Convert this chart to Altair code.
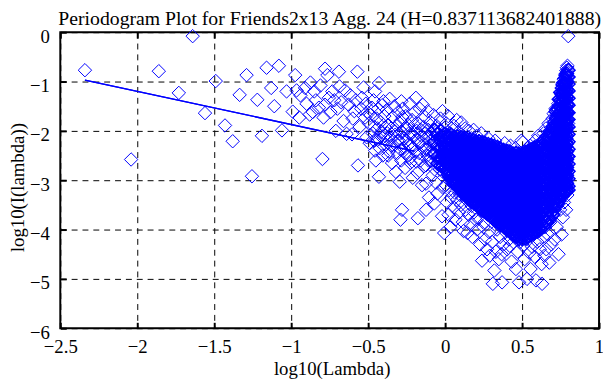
import altair as alt
import pandas as pd

TITLE = "Periodogram Plot for Friends2x13 Agg. 24 (H=0.837113682401888)"
X_TITLE = "log10(Lambda)"
Y_TITLE = "log10(I(lambda))"
x_ticks = [-2.5, -2, -1.5, -1, -0.5, 0, 0.5, 1]
y_ticks = [-6, -5, -4, -3, -2, -1, 0]

# fitted line end points (log10 lambda, log10 I)
fit_x = [-2.34, -0.2]
fit_y = [-0.97, -2.41]

# sparse low-frequency points
low_pts = [(-2.34,-0.77),(-2.04,-2.58),(-1.86,-0.79),(-1.73,-1.23),(-1.64,-0.08),(-1.56,-1.64),
(-1.49,-0.99),(-1.43,-1.89),(-1.38,-2.21),(-1.335,-1.27),(-1.29,-0.87),(-1.255,-2.92),(-1.22,-1.37),
(-1.19,-2.10),(-1.16,-0.72),(-1.13,-1.13),(-1.11,-1.50),(-1.08,-0.68),(-1.06,-1.99),(-1.03,-1.20)]

mid_pts = [(-0.99,-1.61),(-0.974,-0.87),(-0.947,-1.73),(-0.91,-1.13),(-0.88,-1.67),(-0.85,-1.20),
(-0.82,-1.53),(-0.797,-2.57),(-0.79,-1.73),(-0.765,-0.87),(-0.755,-1.33),(-0.733,-1.20),(-0.71,-2.00),
(-0.69,-0.80),(-0.686,-1.10),(-0.66,-1.80),(-0.627,-1.47),(-0.605,-2.07),(-0.59,-1.60),(-0.57,-0.80),
(-0.566,-2.70),(-0.54,-1.33),(-0.52,-1.73),(-0.51,-2.13),(-0.965,-1.18),(-0.94,-1.28),(-0.90,-1.45),
(-0.875,-1.02),(-0.86,-1.62),(-0.84,-1.38),(-0.81,-1.08),(-0.78,-1.47),(-0.745,-1.62),(-0.72,-1.38),
(-0.70,-1.55),(-0.675,-1.42),(-0.65,-1.18),(-0.64,-2.06),(-0.615,-1.28),(-0.60,-1.75),(-0.58,-1.38),
(-0.555,-1.92),(-0.545,-1.55),(-0.53,-1.12),(-0.515,-1.45),(-0.505,-1.62),(-0.78,-0.74)]

neg_pts = [(-0.476,-1.53),(-0.455,-1.20),(-0.43,-1.03),(-0.455,-2.40),(-0.43,-2.93),(-0.40,-1.40),
(-0.39,-1.93),(-0.32,-2.83),(-0.295,-3.03),(-0.284,-1.40),(-0.19,-1.33),(-0.145,-1.47),(-0.113,-1.60),
(-0.017,-1.60),(-0.05,-3.27),(-0.124,-3.07),(-0.28,-3.60),(-0.29,-3.80),(-0.177,-3.77),(-0.124,-3.60),
(-0.07,-3.47),(-0.006,-4.07),(-0.02,-3.73),
(-0.495,-1.85),(-0.49,-2.25),(-0.485,-1.68),(-0.47,-2.05),(-0.465,-1.38),(-0.46,-1.92),(-0.45,-2.6),
(-0.445,-1.75),(-0.44,-2.18),(-0.435,-1.55),(-0.425,-2.35),(-0.42,-1.82),(-0.415,-2.02),(-0.41,-1.48),
(-0.405,-2.5),(-0.40,-2.12),(-0.395,-1.7),(-0.385,-2.28),(-0.38,-1.58),(-0.375,-2.05),(-0.37,-1.88),
(-0.365,-2.42),(-0.36,-1.35),(-0.355,-2.15),(-0.35,-1.95),(-0.345,-2.65),(-0.34,-1.72),(-0.335,-2.3),
(-0.33,-1.5),(-0.325,-2.08),(-0.315,-1.9),(-0.31,-2.45),(-0.305,-1.62),(-0.30,-2.2),(-0.29,-1.8),
(-0.285,-2.6),(-0.28,-2.02),(-0.275,-1.55),(-0.27,-2.35),(-0.265,-1.95),(-0.26,-2.75),(-0.255,-1.7),
(-0.25,-2.2),(-0.245,-2.5),(-0.24,-1.88),(-0.235,-2.05),(-0.23,-1.45),(-0.225,-2.65),(-0.22,-2.3),
(-0.215,-1.78),(-0.21,-2.95),(-0.205,-2.12),(-0.20,-1.62),(-0.195,-2.42),(-0.185,-2.0),(-0.18,-2.85),
(-0.175,-1.85),(-0.17,-2.25),(-0.165,-1.55),(-0.16,-2.6),(-0.155,-2.1),(-0.15,-3.1),(-0.14,-1.92),
(-0.135,-2.38),(-0.13,-1.72),(-0.125,-2.7),(-0.12,-2.15),(-0.115,-2.5),(-0.11,-1.98),(-0.105,-3.35),
(-0.10,-2.28),(-0.095,-1.82),(-0.09,-2.62),(-0.085,-2.05),(-0.08,-2.9),(-0.075,-1.68),(-0.07,-2.45),
(-0.065,-2.2),(-0.06,-3.05),(-0.055,-1.9),(-0.045,-2.55),(-0.04,-2.32),(-0.035,-2.78),(-0.03,-1.75),
(-0.025,-2.1),(-0.015,-3.15),(-0.01,-2.48),(-0.005,-1.95),
(-0.298,-2.05),(-0.288,-2.38),(-0.278,-1.72),(-0.268,-2.15),(-0.258,-2.45),(-0.248,-1.95),(-0.238,-2.28),
(-0.228,-2.55),(-0.218,-2.05),(-0.208,-2.35),(-0.198,-1.88),(-0.188,-2.62),(-0.178,-2.18),(-0.168,-2.45),
(-0.158,-1.98),(-0.148,-2.3),(-0.138,-2.72),(-0.128,-2.05),(-0.118,-2.38),(-0.108,-2.6),(-0.098,-2.12),
(-0.088,-2.45),(-0.078,-2.25),(-0.068,-2.78),(-0.058,-2.02),(-0.048,-2.35),(-0.038,-2.6),(-0.028,-2.2),
(-0.018,-2.5),(-0.008,-2.85),(-0.35,-2.3),(-0.33,-2.0),(-0.31,-2.2),(-0.39,-2.1),(-0.37,-2.5),
(-0.42,-2.1),(-0.44,-1.95),(-0.46,-2.2)]

pos_pts = [
(0.002,-2.35),(0.005,-3.1),(0.008,-1.85),(0.01,-2.62),(0.012,-3.45),(0.015,-2.18),(0.018,-2.9),(0.02,-1.7),
(0.022,-3.7),(0.025,-2.45),(0.027,-3.2),(0.03,-2.05),(0.032,-2.78),(0.035,-3.95),(0.037,-2.3),(0.04,-3.35),
(0.042,-1.95),(0.045,-2.55),(0.047,-3.05),(0.049,-2.2),
(0.051,-2.85),(0.053,-2.4),(0.056,-3.55),(0.058,-1.9),(0.06,-2.7),(0.062,-3.25),(0.065,-2.15),(0.067,-3.8),
(0.07,-2.5),(0.072,-2.95),(0.075,-1.78),(0.077,-3.4),(0.08,-2.6),(0.082,-2.28),(0.085,-3.12),(0.087,-2.02),
(0.09,-3.65),(0.092,-2.75),(0.095,-2.38),(0.097,-3.3),(0.099,-2.88),
(0.101,-2.2),(0.103,-3.5),(0.105,-1.83),(0.107,-2.65),(0.11,-3.05),(0.112,-2.42),(0.115,-3.85),(0.117,-2.1),
(0.12,-4.03),(0.122,-2.78),(0.125,-3.25),(0.127,-2.55),(0.13,-1.95),(0.132,-3.6),(0.135,-2.9),(0.137,-2.3),
(0.14,-3.4),(0.142,-2.68),(0.145,-4.07),(0.147,-2.12),(0.149,-3.15),
(0.151,-2.5),(0.153,-3.7),(0.155,-2.0),(0.157,-2.95),(0.16,-3.3),(0.162,-2.35),(0.165,-3.9),(0.167,-2.72),
(0.17,-2.15),(0.172,-3.52),(0.175,-2.85),(0.177,-4.15),(0.18,-2.45),(0.182,-3.1),(0.185,-1.98),(0.187,-3.65),
(0.19,-2.6),(0.192,-3.42),(0.195,-2.25),(0.197,-3.0),(0.199,-3.8),
(0.201,-2.4),(0.203,-3.35),(0.205,-2.1),(0.207,-4.0),(0.21,-2.75),(0.212,-3.15),(0.215,-2.55),(0.217,-3.75),
(0.22,-2.2),(0.222,-3.5),(0.225,-2.9),(0.227,-4.3),(0.23,-2.65),(0.232,-3.25),(0.235,-2.05),(0.237,-3.62),
(0.24,-4.63),(0.242,-2.82),(0.245,-3.4),(0.247,-2.35),(0.249,-3.95),
(0.251,-2.6),(0.253,-3.2),(0.255,-2.25),(0.257,-3.85),(0.26,-4.2),(0.262,-2.95),(0.265,-3.55),(0.267,-2.45),
(0.27,-3.05),(0.272,-4.4),(0.275,-2.75),(0.277,-3.7),(0.28,-2.15),(0.282,-3.35),(0.285,-4.05),(0.287,-2.88),
(0.29,-4.53),(0.292,-3.15),(0.295,-2.5),(0.297,-3.6),(0.299,-2.3),
(0.301,-3.45),(0.303,-2.65),(0.305,-4.25),(0.307,-3.0),(0.31,-5.1),(0.312,-2.4),(0.315,-3.8),(0.317,-2.85),
(0.32,-4.83),(0.322,-3.25),(0.325,-2.2),(0.327,-3.6),(0.33,-4.45),(0.332,-2.7),(0.335,-3.35),(0.337,-4.0),
(0.34,-2.55),(0.342,-3.1),(0.345,-3.9),(0.347,-2.95),(0.349,-4.6),
(0.351,-2.35),(0.353,-3.55),(0.355,-2.8),(0.357,-4.15),(0.36,-3.2),(0.362,-2.6),(0.365,-3.75),(0.367,-4.5),
(0.37,-5.07),(0.372,-3.0),(0.375,-2.45),(0.377,-3.4),(0.38,-4.3),(0.382,-2.9),(0.385,-3.65),(0.387,-2.25),
(0.39,-3.15),(0.392,-4.05),(0.395,-2.7),(0.397,-3.85),(0.399,-3.3),
(0.401,-2.55),(0.403,-4.4),(0.405,-3.05),(0.407,-3.7),(0.41,-2.4),(0.412,-3.45),(0.415,-4.2),(0.417,-2.85),
(0.42,-4.33),(0.422,-3.25),(0.425,-2.3),(0.427,-3.9),(0.43,-2.95),(0.432,-4.65),(0.435,-3.55),(0.437,-2.65),
(0.44,-3.15),(0.442,-4.0),(0.445,-2.5),(0.447,-3.8),(0.449,-3.35),
(0.451,-2.75),(0.453,-4.1),(0.455,-3.0),(0.457,-2.35),(0.46,-4.8),(0.462,-3.6),(0.465,-2.6),(0.467,-3.95),
(0.47,-3.2),(0.472,-4.45),(0.475,-2.45),(0.477,-3.4),(0.48,-5.07),(0.482,-2.9),(0.485,-3.75),(0.487,-4.25),
(0.49,-2.55),(0.492,-3.5),(0.495,-2.2),(0.497,-4.0),(0.499,-3.1)]

high_pts = [
(0.501,-2.6),(0.503,-3.85),(0.505,-2.23),(0.507,-4.33),(0.51,-3.3),(0.512,-2.85),(0.515,-3.6),(0.517,-4.6),
(0.52,-2.45),(0.522,-3.1),(0.525,-4.05),(0.527,-2.75),(0.53,-3.45),(0.532,-5.0),(0.535,-2.35),(0.537,-3.75),
(0.54,-2.95),(0.542,-4.2),(0.545,-3.25),(0.547,-4.47),(0.549,-2.55),
(0.551,-3.55),(0.553,-2.3),(0.555,-4.8),(0.557,-3.0),(0.56,-3.9),(0.562,-2.65),(0.565,-4.35),(0.567,-3.35),
(0.57,-2.5),(0.572,-3.7),(0.575,-4.1),(0.577,-2.85),(0.58,-3.2),(0.582,-4.55),(0.585,-2.2),(0.587,-3.5),
(0.59,-5.03),(0.592,-2.75),(0.595,-3.85),(0.597,-3.05),(0.599,-4.25),
(0.601,-2.45),(0.603,-3.6),(0.605,-2.1),(0.607,-4.0),(0.61,-3.15),(0.612,-2.7),(0.615,-4.4),(0.617,-3.4),
(0.62,-2.3),(0.622,-3.8),(0.625,-2.95),(0.627,-4.7),(0.63,-5.1),(0.632,-2.55),(0.635,-3.25),(0.637,-4.15),
(0.64,-2.05),(0.642,-3.55),(0.645,-4.53),(0.647,-2.85),(0.649,-3.95),
(0.651,-2.4),(0.653,-3.3),(0.655,-1.95),(0.657,-4.4),(0.66,-2.75),(0.662,-3.65),(0.665,-2.2),(0.667,-4.1),
(0.67,-3.0),(0.672,-1.85),(0.675,-3.45),(0.677,-4.67),(0.68,-2.6),(0.682,-3.85),(0.685,-2.35),(0.687,-3.15),
(0.69,-4.3),(0.692,-2.05),(0.695,-3.55),(0.697,-2.85),(0.699,-1.75),
(0.701,-2.5),(0.703,-3.7),(0.705,-1.65),(0.707,-3.1),(0.71,-2.2),(0.712,-4.2),(0.715,-2.85),(0.717,-1.55),
(0.72,-3.4),(0.722,-2.35),(0.725,-3.95),(0.727,-1.9),(0.73,-2.7),(0.732,-3.25),(0.735,-1.45),(0.737,-4.5),
(0.74,-2.1),(0.742,-3.0),(0.745,-1.35),(0.747,-3.6),(0.749,-2.55),
(0.751,-1.8),(0.752,-3.3),(0.754,-1.25),(0.756,-2.6),(0.757,-4.1),(0.759,-1.55),(0.76,-2.95),(0.762,-1.05),
(0.764,-2.3),(0.765,-3.75),(0.767,-1.7),(0.768,-2.05),(0.77,-0.95),(0.772,-3.45),(0.773,-1.4),(0.775,-2.45),
(0.777,-1.15),(0.778,-3.1),(0.78,-1.9),(0.781,-0.85),(0.783,-2.7),(0.784,-1.3),(0.786,-3.6),(0.787,-0.78),
(0.789,-2.2),(0.79,-1.6),(0.791,-0.72),(0.792,-2.85),(0.793,-1.0),(0.794,-3.3),(0.795,-0.68),(0.796,-1.45),
(0.797,-2.5),(0.798,-0.9),(0.799,-1.85),(0.80,-0.08)]

# dense core, read column by column: (log10 lambda, [log10 I values])
core_cols = [
(-0.07,[-1.98,-2.22,-2.46]),
(-0.05,[-2.07,-2.3,-2.52,-2.66]),
(-0.03,[-2.0,-2.18,-2.36,-2.55,-2.7]),
(-0.015,[-2.1,-2.26,-2.42,-2.58,-2.72]),
(0.00,[-2.06,-2.2,-2.33,-2.47,-2.6,-2.74]),
(0.01,[-2.13,-2.27,-2.4,-2.54,-2.67,-2.81]),
(0.02,[-2.1,-2.23,-2.37,-2.5,-2.64,-2.78,-2.88]),
(0.03,[-2.14,-2.28,-2.42,-2.56,-2.69,-2.83,-2.94]),
(0.04,[-2.08,-2.21,-2.35,-2.49,-2.62,-2.76,-2.9,-2.99]),
(0.05,[-2.17,-2.31,-2.45,-2.59,-2.73,-2.87,-3.01]),
(0.06,[-2.12,-2.26,-2.4,-2.53,-2.67,-2.81,-2.95,-3.08]),
(0.07,[-2.18,-2.32,-2.46,-2.6,-2.74,-2.88,-3.02,-3.11]),
(0.08,[-2.11,-2.24,-2.38,-2.52,-2.66,-2.8,-2.93,-3.06,-3.14]),
(0.09,[-2.18,-2.32,-2.46,-2.6,-2.74,-2.88,-3.02,-3.16]),
(0.10,[-2.13,-2.27,-2.41,-2.55,-2.69,-2.83,-2.97,-3.1,-3.19]),
(0.11,[-2.2,-2.34,-2.48,-2.62,-2.76,-2.9,-3.04,-3.18,-3.25]),
(0.12,[-2.15,-2.29,-2.43,-2.57,-2.71,-2.85,-2.99,-3.13,-3.27]),
(0.13,[-2.22,-2.36,-2.5,-2.64,-2.78,-2.92,-3.06,-3.2,-3.31]),
(0.14,[-2.16,-2.3,-2.44,-2.58,-2.72,-2.86,-3.0,-3.14,-3.28,-3.34]),
(0.15,[-2.23,-2.37,-2.51,-2.65,-2.79,-2.93,-3.07,-3.21,-3.35]),
(0.16,[-2.18,-2.32,-2.46,-2.6,-2.74,-2.88,-3.02,-3.16,-3.3,-3.39]),
(0.17,[-2.25,-2.39,-2.53,-2.67,-2.81,-2.95,-3.09,-3.23,-3.37,-3.43]),
(0.18,[-2.19,-2.33,-2.47,-2.61,-2.75,-2.89,-3.03,-3.17,-3.31,-3.44]),
(0.19,[-2.26,-2.4,-2.54,-2.68,-2.82,-2.96,-3.1,-3.24,-3.38,-3.46]),
(0.20,[-2.21,-2.35,-2.49,-2.63,-2.77,-2.91,-3.05,-3.19,-3.33,-3.47]),
(0.21,[-2.28,-2.42,-2.56,-2.7,-2.84,-2.98,-3.12,-3.26,-3.41,-3.52]),
(0.22,[-2.22,-2.36,-2.5,-2.64,-2.78,-2.92,-3.06,-3.2,-3.34,-3.48,-3.55]),
(0.23,[-2.29,-2.43,-2.57,-2.71,-2.86,-3.0,-3.14,-3.28,-3.42,-3.56]),
(0.24,[-2.23,-2.37,-2.51,-2.65,-2.79,-2.94,-3.08,-3.22,-3.36,-3.5,-3.6]),
(0.25,[-2.31,-2.45,-2.59,-2.73,-2.88,-3.02,-3.16,-3.3,-3.45,-3.59]),
(0.26,[-2.25,-2.39,-2.53,-2.67,-2.81,-2.96,-3.1,-3.24,-3.38,-3.52,-3.64]),
(0.27,[-2.33,-2.47,-2.61,-2.75,-2.9,-3.04,-3.18,-3.32,-3.47,-3.61,-3.67]),
(0.28,[-2.27,-2.41,-2.55,-2.69,-2.83,-2.98,-3.12,-3.26,-3.4,-3.55,-3.69]),
(0.29,[-2.35,-2.49,-2.63,-2.77,-2.92,-3.06,-3.2,-3.35,-3.49,-3.64,-3.72]),
(0.30,[-2.29,-2.43,-2.57,-2.71,-2.85,-3.0,-3.14,-3.28,-3.43,-3.57,-3.73]),
(0.31,[-2.37,-2.51,-2.65,-2.79,-2.94,-3.08,-3.22,-3.37,-3.51,-3.66,-3.77]),
(0.32,[-2.31,-2.45,-2.59,-2.73,-2.88,-3.02,-3.16,-3.31,-3.45,-3.6,-3.74,-3.8]),
(0.33,[-2.39,-2.53,-2.67,-2.81,-2.96,-3.1,-3.24,-3.39,-3.53,-3.68,-3.82]),
(0.34,[-2.33,-2.47,-2.61,-2.75,-2.9,-3.04,-3.18,-3.33,-3.47,-3.62,-3.76,-3.85]),
(0.35,[-2.42,-2.56,-2.7,-2.84,-2.99,-3.13,-3.28,-3.42,-3.57,-3.71,-3.85]),
(0.36,[-2.36,-2.5,-2.64,-2.78,-2.92,-3.07,-3.21,-3.36,-3.5,-3.65,-3.79,-3.9]),
(0.37,[-2.44,-2.58,-2.72,-2.86,-3.01,-3.15,-3.3,-3.44,-3.59,-3.74,-3.89]),
(0.38,[-2.39,-2.53,-2.67,-2.81,-2.95,-3.1,-3.24,-3.38,-3.53,-3.67,-3.82,-3.94]),
(0.39,[-2.47,-2.61,-2.75,-2.89,-3.04,-3.18,-3.33,-3.47,-3.62,-3.77,-3.92]),
(0.40,[-2.41,-2.55,-2.69,-2.83,-2.98,-3.12,-3.26,-3.41,-3.55,-3.7,-3.85,-3.99]),
(0.41,[-2.49,-2.63,-2.77,-2.92,-3.06,-3.21,-3.35,-3.5,-3.65,-3.8,-3.95,-4.02]),
(0.42,[-2.43,-2.57,-2.71,-2.85,-3.0,-3.14,-3.29,-3.43,-3.58,-3.72,-3.87,-4.02]),
(0.43,[-2.51,-2.65,-2.79,-2.94,-3.08,-3.23,-3.37,-3.52,-3.67,-3.82,-3.97,-4.07]),
(0.44,[-2.46,-2.6,-2.74,-2.88,-3.02,-3.17,-3.31,-3.46,-3.6,-3.75,-3.9,-4.05,-4.1]),
(0.45,[-2.52,-2.66,-2.8,-2.95,-3.09,-3.24,-3.38,-3.53,-3.68,-3.83,-3.98,-4.11]),
(0.46,[-2.45,-2.59,-2.73,-2.87,-3.02,-3.16,-3.31,-3.45,-3.6,-3.75,-3.9,-4.04,-4.14]),
(0.47,[-2.53,-2.67,-2.81,-2.96,-3.1,-3.25,-3.4,-3.54,-3.69,-3.84,-3.99,-4.13]),
(0.48,[-2.47,-2.61,-2.75,-2.89,-3.04,-3.18,-3.33,-3.47,-3.62,-3.77,-3.92,-4.07,-4.19]),
(0.49,[-2.53,-2.67,-2.82,-2.96,-3.11,-3.25,-3.4,-3.55,-3.7,-3.85,-4.0,-4.14]),
(0.50,[-2.46,-2.6,-2.74,-2.88,-3.03,-3.17,-3.32,-3.46,-3.61,-3.76,-3.91,-4.06,-4.19]),
(0.51,[-2.51,-2.65,-2.79,-2.94,-3.08,-3.23,-3.38,-3.53,-3.68,-3.83,-3.98,-4.12]),
(0.52,[-2.43,-2.57,-2.71,-2.85,-3.0,-3.14,-3.29,-3.43,-3.58,-3.73,-3.88,-4.03,-4.18]),
(0.53,[-2.49,-2.63,-2.77,-2.92,-3.06,-3.21,-3.36,-3.51,-3.66,-3.81,-3.96,-4.1]),
(0.54,[-2.41,-2.55,-2.69,-2.83,-2.98,-3.12,-3.27,-3.41,-3.56,-3.71,-3.86,-4.01,-4.14]),
(0.55,[-2.46,-2.6,-2.74,-2.89,-3.03,-3.18,-3.33,-3.48,-3.63,-3.78,-3.93,-4.07]),
(0.56,[-2.38,-2.52,-2.66,-2.8,-2.95,-3.09,-3.24,-3.38,-3.53,-3.68,-3.83,-3.98,-4.11]),
(0.57,[-2.43,-2.57,-2.71,-2.86,-3.0,-3.15,-3.3,-3.45,-3.6,-3.75,-3.9,-4.04]),
(0.58,[-2.34,-2.48,-2.62,-2.76,-2.91,-3.05,-3.2,-3.34,-3.49,-3.64,-3.79,-3.94,-4.07]),
(0.59,[-2.39,-2.53,-2.67,-2.82,-2.96,-3.11,-3.26,-3.41,-3.56,-3.71,-3.86,-4.0]),
(0.60,[-2.31,-2.45,-2.59,-2.73,-2.88,-3.02,-3.17,-3.31,-3.46,-3.61,-3.76,-3.91,-4.04]),
(0.61,[-2.35,-2.49,-2.63,-2.78,-2.92,-3.07,-3.22,-3.37,-3.52,-3.67,-3.82,-3.96]),
(0.62,[-2.26,-2.4,-2.54,-2.68,-2.83,-2.97,-3.12,-3.26,-3.41,-3.56,-3.71,-3.86,-3.99]),
(0.63,[-2.29,-2.43,-2.57,-2.72,-2.86,-3.01,-3.16,-3.31,-3.46,-3.61,-3.76,-3.9]),
(0.64,[-2.19,-2.33,-2.47,-2.61,-2.76,-2.9,-3.05,-3.19,-3.34,-3.49,-3.64,-3.79,-3.94]),
(0.65,[-2.22,-2.36,-2.5,-2.65,-2.79,-2.94,-3.09,-3.24,-3.39,-3.54,-3.69,-3.84]),
(0.66,[-2.11,-2.25,-2.39,-2.53,-2.68,-2.82,-2.97,-3.11,-3.26,-3.41,-3.56,-3.71,-3.86]),
(0.67,[-2.13,-2.27,-2.41,-2.56,-2.7,-2.85,-3.0,-3.15,-3.3,-3.45,-3.6,-3.76]),
(0.68,[-2.01,-2.15,-2.29,-2.43,-2.58,-2.72,-2.87,-3.01,-3.16,-3.31,-3.46,-3.61,-3.78]),
(0.69,[-2.03,-2.17,-2.31,-2.46,-2.6,-2.75,-2.9,-3.05,-3.2,-3.35,-3.5,-3.66]),
(0.70,[-1.91,-2.05,-2.19,-2.33,-2.48,-2.62,-2.77,-2.91,-3.06,-3.21,-3.36,-3.51,-3.7]),
(0.71,[-1.82,-1.96,-2.1,-2.25,-2.39,-2.54,-2.69,-2.84,-2.99,-3.14,-3.29,-3.44,-3.59]),
(0.72,[-1.61,-1.75,-1.89,-2.03,-2.18,-2.32,-2.47,-2.61,-2.76,-2.91,-3.06,-3.21,-3.36,-3.52]),
(0.73,[-1.55,-1.69,-1.83,-1.98,-2.12,-2.27,-2.42,-2.57,-2.72,-2.87,-3.02,-3.17,-3.32,-3.47]),
(0.74,[-1.36,-1.5,-1.64,-1.78,-1.93,-2.07,-2.22,-2.36,-2.51,-2.66,-2.81,-2.96,-3.11,-3.27,-3.42]),
(0.75,[-1.22,-1.38,-1.53,-1.69,-1.85,-2.0,-2.16,-2.32,-2.47,-2.63,-2.79,-2.95,-3.11,-3.28]),
(0.76,[-1.13,-1.27,-1.41,-1.55,-1.7,-1.84,-1.99,-2.13,-2.28,-2.43,-2.58,-2.73,-2.88,-3.03,-3.18,-3.33]),
(0.765,[-1.07,-1.23,-1.39,-1.55,-1.71,-1.87,-2.03,-2.19,-2.35,-2.51,-2.67,-2.83,-2.99,-3.15,-3.29]),
(0.77,[-1.02,-1.18,-1.34,-1.49,-1.65,-1.81,-1.96,-2.12,-2.28,-2.44,-2.6,-2.76,-2.92,-3.08,-3.24]),
(0.78,[-0.93,-1.07,-1.21,-1.35,-1.5,-1.64,-1.79,-1.93,-2.08,-2.23,-2.38,-2.53,-2.68,-2.83,-2.98,-3.13,-3.24]),
(0.785,[-0.88,-1.04,-1.2,-1.36,-1.52,-1.68,-1.84,-2.0,-2.16,-2.32,-2.48,-2.64,-2.8,-2.96,-3.12]),
(0.79,[-0.84,-1.0,-1.16,-1.31,-1.47,-1.63,-1.78,-1.94,-2.1,-2.26,-2.42,-2.58,-2.74,-2.9,-3.06,-3.22]),
(0.80,[-0.77,-0.91,-1.05,-1.19,-1.34,-1.48,-1.63,-1.77,-1.92,-2.07,-2.22,-2.37,-2.52,-2.67,-2.82,-2.97,-3.12,-3.2]),
]

core_pts = [(cx, cy) for cx, ys in core_cols for cy in ys]
scatter_pts = low_pts + mid_pts + neg_pts + pos_pts + high_pts
pts_df = pd.DataFrame({"x": [p[0] for p in scatter_pts], "y": [p[1] for p in scatter_pts]})
core_df = pd.DataFrame({"x": [p[0] for p in core_pts], "y": [p[1] for p in core_pts]})
fit_df = pd.DataFrame({"x": fit_x, "y": fit_y})

FONT = "Liberation Serif"
FS = 19
BLUE = "#0000ff"
xscale = alt.Scale(domain=[-2.5, 1], nice=False, zero=False)
yscale = alt.Scale(domain=[-6, 0], nice=False, zero=False)

main_x_axis = alt.Axis(orient="bottom", values=x_ticks, format="~g", grid=True, gridColor="black",
                       gridDash=[6, 5], gridOpacity=1, gridWidth=1, ticks=False, tickSize=0, domain=False,
                       labelFont=FONT, labelFontSize=FS, labelColor="black", labelPadding=10,
                       labelFlush=False, labelOverlap=False,
                       title=X_TITLE, titleFont=FONT, titleFontSize=FS, titleFontWeight="normal",
                       titleColor="black", titleX=275, titleY=47, titleBaseline="alphabetic",
                       titleAnchor="middle")
main_y_axis = alt.Axis(orient="left", values=y_ticks, format="~g", grid=True, gridColor="black",
                       gridDash=[6, 5], gridOpacity=1, gridWidth=1, ticks=False, tickSize=0, domain=False,
                       labelFont=FONT, labelFontSize=FS, labelColor="black", labelPadding=11,
                       labelOffset=4, labelFlush=False, labelOverlap=False,
                       title=Y_TITLE, titleFont=FONT, titleFontSize=FS, titleFontWeight="normal",
                       titleColor="black", titleX=-37, titleY=157, titleAngle=-90,
                       titleBaseline="alphabetic", titleAlign="center")

def tick_axis(orient, vals):
    return alt.Axis(orient=orient, values=vals, grid=False, labels=False, domain=False, ticks=True,
                    tickSize=6, tickWidth=2, tickColor="black", offset=-6, title=None)

points = alt.Chart(pts_df).mark_point(shape="diamond", filled=False, color=BLUE, size=185,
                                      strokeWidth=1, opacity=1).encode(
    x=alt.X("x:Q", scale=xscale, axis=main_x_axis),
    y=alt.Y("y:Q", scale=yscale, axis=main_y_axis),
)

core = alt.Chart(core_df).mark_point(shape="diamond", filled=False, color=BLUE, size=185,
                                     strokeWidth=1.6, opacity=1).encode(
    x=alt.X("x:Q", scale=xscale, axis=None),
    y=alt.Y("y:Q", scale=yscale, axis=None),
)

fit1 = alt.Chart(fit_df).mark_line(color=BLUE, strokeWidth=1.3).encode(
    x=alt.X("x:Q", scale=xscale, axis=tick_axis("top", x_ticks)),
    y=alt.Y("y:Q", scale=yscale, axis=tick_axis("right", y_ticks)),
)
fit2 = alt.Chart(fit_df).mark_line(color=BLUE, strokeWidth=1.3).encode(
    x=alt.X("x:Q", scale=xscale, axis=tick_axis("bottom", x_ticks)),
    y=alt.Y("y:Q", scale=yscale, axis=tick_axis("left", y_ticks)),
)

chart = alt.layer(points, core, fit1, fit2).resolve_axis(x="independent", y="independent").properties(
    width=546, height=300,
    autosize=alt.AutoSizeParams(type="none"),
    padding={"left": 53, "top": 22, "right": 4, "bottom": 55},
    title=alt.TitleParams(TITLE, font=FONT, fontSize=20, fontWeight="normal", color="black",
                          anchor="middle", frame="group", offset=4, baseline="alphabetic", dy=22),
).configure_view(stroke="black", strokeWidth=2)

chart.save("out.html", embed_options={"renderer": "svg", "actions": False})
